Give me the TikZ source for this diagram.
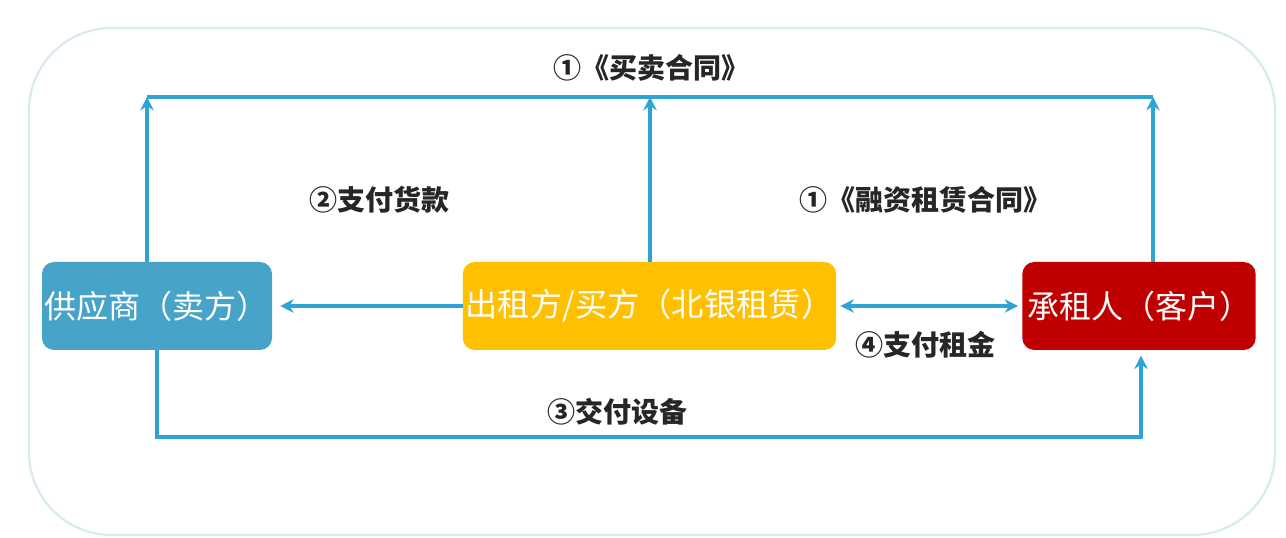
\documentclass[tikz,border=0pt]{standalone}
\usepackage{fontspec}
\newfontfamily\cjk{Noto Sans CJK SC}
\usetikzlibrary{arrows.meta}
\definecolor{flow}{HTML}{2EA3D6}
\definecolor{frame}{HTML}{D6ECEC}
\definecolor{supplier}{HTML}{47A3C8}
\definecolor{lessor}{HTML}{FFC000}
\definecolor{client}{HTML}{C00000}
\tikzset{
  party/.style={rounded corners=9pt, minimum height=66pt, inner sep=0pt, text=white, font=\cjk\fontsize{24}{28}\selectfont},
  flowline/.style={draw=flow, line width=2.6pt, -{Stealth[length=10pt,width=10pt]}},
  lbl/.style={font=\cjk\bfseries\fontsize{21}{25}\selectfont, text=black!85, inner sep=0pt},
}
\begin{document}
\begin{tikzpicture}[x=0.75pt,y=-0.75pt]
\useasboundingbox[fill=white] (0,0) rectangle (1286,538);
\draw[frame, line width=1.6pt, rounded corners=62pt] (29,28) rectangle (1275,535);

\node[party, fill=supplier, minimum width=172.5pt] (sup) at (157,306) {供应商（卖方）};
\node[party, fill=lessor, minimum width=280pt, font=\cjk\fontsize{24.2}{28}\selectfont] (mid) at (649.5,306) {出租方/买方（北银租赁）};
\node[party, fill=client, minimum width=175pt] (cli) at (1139,306) {承租人（客户）};

\coordinate (tl) at (147,97);
\coordinate (tm) at (650,97);
\coordinate (tr) at (1153,97);
\coordinate (bl) at (157,437);
\coordinate (br) at (1141,437);

\draw[draw=flow, line width=2.6pt] (tl) -- (tr);
\draw[flowline] (sup.north -| tl) -- (tl);
\draw[flowline] (mid.north -| tm) -- (tm);
\draw[flowline] (cli.north -| tr) -- (tr);

\draw[flowline, shorten >=6pt] (mid.west) -- (sup.east);
\draw[flowline, {Stealth[length=10pt,width=10pt]}-{Stealth[length=10pt,width=10pt]}, shorten >=3pt, shorten <=3pt] (mid.east) -- (cli.west);

\draw[flowline, shorten >=4pt] (sup.south -| bl) -- (bl) -- (br) -- (cli.south -| br);

\node[lbl] (t1) at (651,68) {①《买卖合同》};
\node[lbl] (t2) at (379,200) {②支付货款};
\node[lbl] (t3) at (925,200) {①《融资租赁合同》};
\node[lbl] (t4) at (925,345) {④支付租金};
\node[lbl] (t5) at (617,412) {③交付设备};
\end{tikzpicture}
\end{document}
